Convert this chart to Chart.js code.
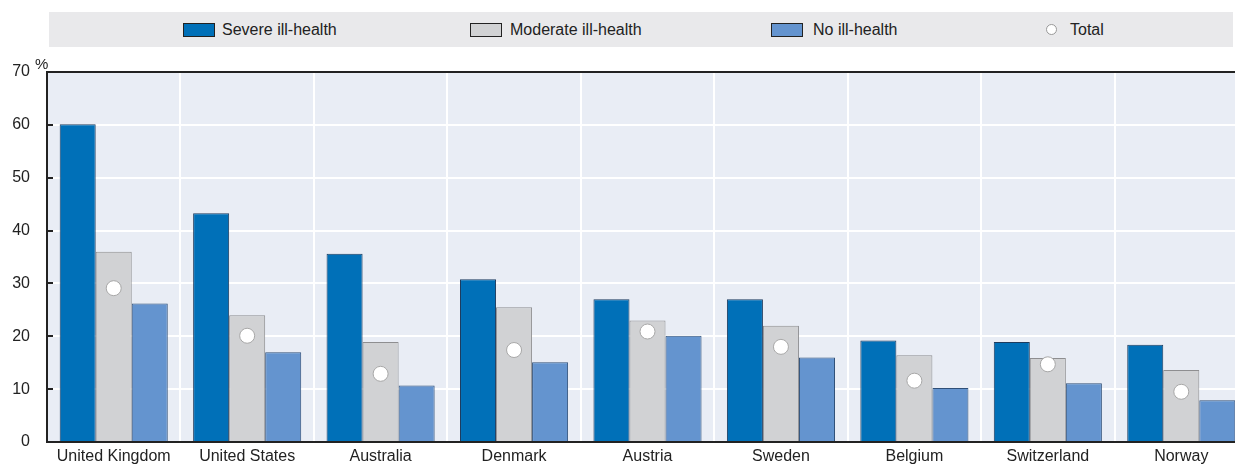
<!DOCTYPE html>
<html>
<head>
<meta charset="utf-8">
<script src="https://cdn.jsdelivr.net/npm/chart.js@4.4.1/dist/chart.umd.min.js"></script>
<style>
  html, body { margin: 0; padding: 0; background: #fff; overflow: hidden; width: 1235px; height: 466px; }
  #wrap { position: relative; width: 1235px; height: 466px; overflow: hidden; font-family: Arial, "Liberation Sans", sans-serif; color: #222; }
  #legend { position: absolute; left: 49px; top: 12px; width: 1184px; height: 35px; background: #e9e9eb; z-index: 2; }
  .sw { position: absolute; top: 11px; width: 30px; height: 12px; border: 1px solid #222; }
  .lt { position: absolute; top: 9px; font-size: 16px; line-height: 18px; white-space: nowrap; }
  .dot { position: absolute; top: 12px; width: 9px; height: 9px; border-radius: 50%; background: #fff; border: 1px solid #999; }
  #pct { position: absolute; left: 35px; top: 56px; font-size: 15px; line-height: 16px; z-index: 2; }
  #cbox { position: absolute; left: 0; top: 0; width: 1248px; height: 466px; }
  #c { display: block; }
</style>
</head>
<body>
<div id="wrap">
  <div id="cbox"><canvas id="c" width="1248" height="466"></canvas></div>
  <div id="legend">
    <div class="sw" style="left:134px;background:#0070b8;"></div><div class="lt" style="left:173px;">Severe ill-health</div>
    <div class="sw" style="left:421px;background:#d1d2d4;"></div><div class="lt" style="left:461px;">Moderate ill-health</div>
    <div class="sw" style="left:722px;background:#6494cf;"></div><div class="lt" style="left:764px;">No ill-health</div>
    <div class="dot" style="left:997px;"></div><div class="lt" style="left:1021px;">Total</div>
  </div>
  <div id="pct">%</div>
</div>
<script>
const categories = ["United Kingdom", "United States", "Australia", "Denmark", "Austria", "Sweden", "Belgium", "Switzerland", "Norway"];
const severe   = [60.1, 43.3, 35.6, 30.8, 27.0, 27.0, 19.2, 18.9, 18.4];
const moderate = [36.0, 24.0, 18.9, 25.5, 23.0, 22.0, 16.4, 15.9, 13.6];
const noIll    = [26.2, 17.0, 10.7, 15.1, 20.1, 16.0, 10.2, 11.1, 7.9];
const total    = [29.1, 20.1, 12.9, 17.4, 20.9, 18.0, 11.6, 14.7, 9.5];
const yTicks   = [0, 10, 20, 30, 40, 50, 60, 70];

const plotDecor = {
  id: 'plotDecor',
  beforeDraw(chart) {
    const a = chart.chartArea, ctx = chart.ctx;
    ctx.save();
    ctx.fillStyle = '#e9edf5';
    ctx.fillRect(a.left, a.top, a.right - a.left, a.bottom - a.top);
    ctx.restore();
  },
  afterDraw(chart) {
    const a = chart.chartArea, ctx = chart.ctx, y = chart.scales.y;
    ctx.save();
    ctx.strokeStyle = '#222';
    ctx.lineWidth = 2;
    ctx.beginPath();
    ctx.moveTo(a.left - 1, a.top);
    ctx.lineTo(a.right, a.top);
    ctx.stroke();
    yTicks.forEach(v => {
      if (v === 0 || v === 70) return;
      const py = Math.round(y.getPixelForValue(v));
      ctx.beginPath();
      ctx.moveTo(a.left, py);
      ctx.lineTo(a.left + 6, py);
      ctx.stroke();
    });
    ctx.restore();
  }
};

function zeroPad(s) { s.paddingTop = 0; s.paddingBottom = 0; s.paddingLeft = 0; s.paddingRight = 0; }

new Chart(document.getElementById('c'), {
  type: 'bar',
  data: {
    labels: categories,
    datasets: [
      { type: 'line', label: 'Total', data: total, showLine: false, order: -1, clip: false,
        pointRadius: 7.5, pointHoverRadius: 7.5, pointBackgroundColor: '#ffffff', pointBorderColor: '#a8a8a8', pointBorderWidth: 1 },
      { label: 'Severe ill-health', data: severe, backgroundColor: '#0070b8', borderColor: '#1d3b5e', borderWidth: 1, order: 1 },
      { label: 'Moderate ill-health', data: moderate, backgroundColor: '#d1d2d4', borderColor: '#8e8e90', borderWidth: 1, order: 1 },
      { label: 'No ill-health', data: noIll, backgroundColor: '#6494cf', borderColor: '#2f4f78', borderWidth: 1, order: 1 }
    ]
  },
  options: {
    responsive: false,
    animation: false,
    devicePixelRatio: 1,
    layout: { autoPadding: false, padding: { top: 72, left: 0, right: 0, bottom: 0 } },
    datasets: { bar: { categoryPercentage: 0.81, barPercentage: 1.0 } },
    plugins: { legend: { display: false }, tooltip: { enabled: false } },
    scales: {
      x: {
        grid: { color: '#ffffff', lineWidth: 2, drawTicks: false, offset: true },
        border: { color: '#222', width: 2 },
        ticks: { color: '#222', font: { family: 'Arial, "Liberation Sans", sans-serif', size: 16 }, padding: 5, maxRotation: 0, autoSkip: false },
        afterFit(s) { s.height = 24; zeroPad(s); }
      },
      y: {
        min: 0, max: 70,
        afterBuildTicks(s) { s.ticks = yTicks.map(v => ({ value: v })); },
        grid: { color: (c) => c.tick && c.tick.value === 70 ? 'rgba(0,0,0,0)' : '#ffffff', lineWidth: 2, drawTicks: false },
        border: { color: '#222', width: 2 },
        ticks: { color: '#222', font: { family: 'Arial, "Liberation Sans", sans-serif', size: 16 }, padding: 17 },
        afterFit(s) { s.width = 47; zeroPad(s); }
      }
    }
  },
  plugins: [plotDecor]
});
</script>
</body>
</html>
